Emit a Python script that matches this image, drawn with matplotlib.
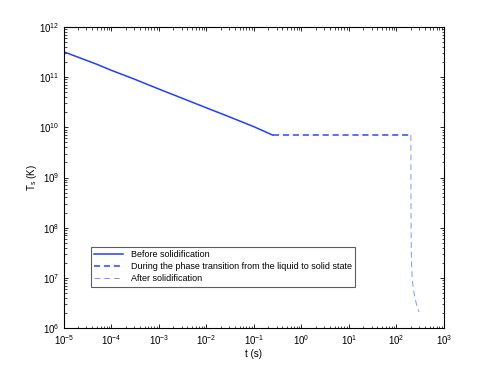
import matplotlib
matplotlib.use('Agg')
import matplotlib.pyplot as plt

plt.rcParams['font.family'] = ['Liberation Sans', 'DejaVu Sans']
plt.rcParams['mathtext.fontset'] = 'custom'
plt.rcParams['mathtext.rm'] = 'Liberation Sans'
plt.rcParams['mathtext.it'] = 'Liberation Sans'

# Before solidification
t_before = [1e-5, 2e-5, 5e-5, 1e-4, 3e-4, 1e-3, 3e-3, 1e-2, 3e-2, 0.1, 0.25]
T_before = [3.2e11, 2.5e11, 1.8e11, 1.37e11, 9.2e10, 5.8e10, 3.85e10, 2.45e10, 1.63e10, 1.03e10, 7.0e9]

# During the phase transition
t_during = [0.25, 1.0, 10.0, 100.0, 202.0]
T_during = [7.0e9, 7.0e9, 7.0e9, 7.0e9, 7.0e9]

# After solidification
t_after = [202.0, 202.5, 203.5, 205.0, 208.0, 215.0, 225.0, 245.0, 270.0, 300.0]
T_after = [7.0e9, 1e9, 2e8, 6e7, 2.2e7, 1.0e7, 6.5e6, 4.0e6, 2.8e6, 2.1e6]

fig = plt.figure(figsize=(4.91, 3.70), dpi=100)
ax = fig.add_axes([0.130, 0.1135, 0.774, 0.8135])

ax.loglog(t_before, T_before, '-', color='#1f3fff', lw=1.1, label='Before solidification')
ax.loglog(t_during, T_during, '--', color='#2a48ff', lw=1.1, dashes=(4, 2.5),
          label='During the phase transition from the liquid to solid state')
ax.loglog(t_after, T_after, '--', color='#7f93ff', lw=0.7, dashes=(6, 4),
          label='After solidification')

ax.set_xlim(1e-5, 1e3)
ax.set_ylim(1e6, 1e12)
ax.set_xticks([10.0**k for k in range(-5, 4)])
ax.set_yticks([10.0**k for k in range(6, 13)])
ax.tick_params(which='both', direction='in', top=True, right=True, labelsize=7)
ax.tick_params(which='major', length=3, width=0.6)
ax.tick_params(which='minor', length=1.8, width=0.5)
for s in ax.spines.values():
    s.set_linewidth(0.8)

ax.set_xlabel('t (s)', fontsize=7, labelpad=2)
ax.set_ylabel('T$_\\mathrm{s}$ (K)', fontsize=7, labelpad=0)

leg = ax.legend(loc='lower left', bbox_to_anchor=(0.071, 0.136), fontsize=6.5,
                frameon=True, fancybox=False, borderaxespad=0, handlelength=3.2,
                labelspacing=0.35, borderpad=0.4)
leg.get_frame().set_edgecolor('#333333')
leg.get_frame().set_linewidth(0.8)

fig.savefig('out.png', dpi=100)
